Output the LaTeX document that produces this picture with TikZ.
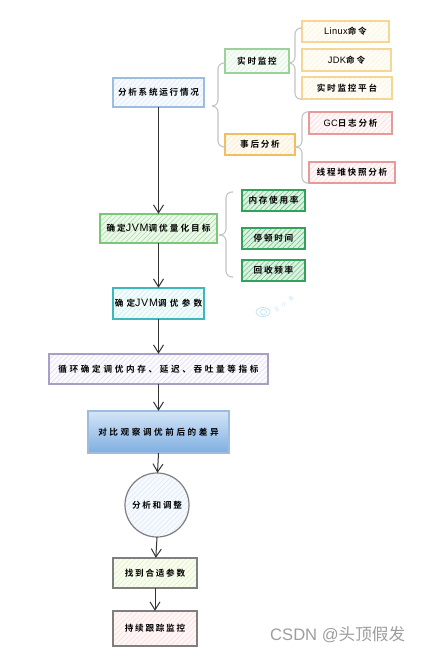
\documentclass[tikz,border=0pt]{standalone}
\usepackage{fontspec}
\setmainfont{Noto Sans CJK SC}[BoldFont={Noto Sans CJK SC Bold},LetterSpace=20]
\newfontfamily\latinf{Liberation Sans}[LetterSpace=4,Scale=1.08,BoldFont={Liberation Sans}]
\newfontfamily\latinw{Liberation Sans}[LetterSpace=6,Scale=1.25,BoldFont={Liberation Sans}]
\newfontfamily\latinplain{Liberation Sans}
\newfontfamily\cjkreg{Noto Sans CJK SC}
\usetikzlibrary{patterns.meta,arrows.meta,calc}
\definecolor{arrowc}{HTML}{333333}
\definecolor{bracec}{HTML}{C4C4C4}
% border / fill / hatch triples
\definecolor{blueB}{HTML}{9DBDE0}\definecolor{blueF}{HTML}{F6FAFE}\definecolor{blueH}{HTML}{DDEAF8}
\definecolor{greenB}{HTML}{9AD29A}\definecolor{greenF}{HTML}{F6FCF6}\definecolor{greenH}{HTML}{DDF2DD}
\definecolor{orangeB}{HTML}{F2BE5E}\definecolor{orangeF}{HTML}{FFFBF2}\definecolor{orangeH}{HTML}{FDEBCB}
\definecolor{yellowB}{HTML}{F5D694}\definecolor{yellowF}{HTML}{FFFDF7}\definecolor{yellowH}{HTML}{FDF3DC}
\definecolor{redB}{HTML}{E89A9A}\definecolor{redF}{HTML}{FFF8F8}\definecolor{redH}{HTML}{FBDEDE}
\definecolor{dgB}{HTML}{2FA35A}\definecolor{dgF}{HTML}{DDF2E2}\definecolor{dgH}{HTML}{6FC488}
\definecolor{lgB}{HTML}{7CC67A}\definecolor{lgF}{HTML}{ECF8EA}\definecolor{lgH}{HTML}{AFE0A9}
\definecolor{tealB}{HTML}{3DB8BE}\definecolor{tealF}{HTML}{F4FCFC}\definecolor{tealH}{HTML}{CDEFF0}
\definecolor{purpB}{HTML}{A79FC6}\definecolor{purpF}{HTML}{FBFAFE}\definecolor{purpH}{HTML}{E3DFF0}
\definecolor{grayB}{HTML}{7F7F7F}
\definecolor{limeF}{HTML}{F8FDF0}\definecolor{limeH}{HTML}{DFF2C8}
\definecolor{pinkF}{HTML}{FFF6F6}\definecolor{pinkH}{HTML}{FBDEDE}
\definecolor{gradT}{HTML}{D3E5F8}\definecolor{gradB}{HTML}{7FAEE0}
\definecolor{wm}{HTML}{BFE3F7}
\tikzset{
  x=1pt,y=-1pt,
  lbl/.style={font=\bfseries\fontsize{8.6}{10}\selectfont,text=black,align=center},
  hatchbox/.style n args={3}{draw=#1,line width=1.1pt,preaction={fill=#2},
    preaction={pattern={Lines[angle=45,distance=3.6pt,line width=.6pt]},pattern color=#3}},
  flow/.style={draw=arrowc,line width=1pt,-{Straight Barb[length=8pt,width=10pt,line width=1pt]}},
  brc/.style={draw=bracec,line width=1.1pt,rounded corners=6pt},
}
% name, x1, y1, x2, y2, style, text
\newcommand\bx[7]{\path[#6] (#2,#3) rectangle (#4,#5);
  \node[lbl,inner sep=0pt,minimum width={#4pt-#2pt},minimum height={#5pt-#3pt}] (#1) at ({(#2+#4)/2},{(#3+#5)/2}) {#7};}
% end, tip, end, spine x
\newcommand\brcc[4]{\coordinate (sp) at (#4,0);
  \draw[brc] (#1) -- (sp |- #1) -- (sp |- #2) -- (#2);
  \draw[brc] (#3) -- (sp |- #3) -- (sp |- #2) -- (#2);}
\begin{document}
\begin{tikzpicture}
\useasboundingbox (0,0) rectangle (421,653);
\fill[white] (0,0) rectangle (421,653);
% boxes
\bx{a}{113}{78}{204}{107}{hatchbox={blueB}{blueF}{blueH}}{分析系统运行情况}
\bx{rt}{225}{49}{289}{73}{hatchbox={greenB}{greenF}{greenH}}{实时监控}
\bx{post}{225}{134}{295}{155}{hatchbox={orangeB}{orangeF}{orangeH}}{事后分析}
\bx{lin}{302}{21}{389}{42}{hatchbox={yellowB}{yellowF}{yellowH}}{{\latinf Linux}命令}
\bx{jdk}{302}{49}{391}{71}{hatchbox={yellowB}{yellowF}{yellowH}}{{\latinf JDK}命令}
\bx{plat}{302}{77}{392}{99}{hatchbox={yellowB}{yellowF}{yellowH}}{实时监控平台}
\bx{gc}{309}{112}{392}{134}{hatchbox={redB}{redF}{redH}}{{\latinf GC}日志分析}
\bx{dump}{309}{162}{395}{183}{hatchbox={redB}{redF}{redH}}{线程堆快照分析}
\bx{goal}{100}{214}{217}{243}{hatchbox={lgB}{lgF}{lgH}}{\addfontfeature{LetterSpace=24}确定{\latinw JVM}调优量化目标}
\bx{mem}{242}{190}{305}{211}{hatchbox={dgB}{dgF}{dgH}}{内存使用率}
\bx{pause}{242}{228}{305}{249}{hatchbox={dgB}{dgF}{dgH}}{停顿时间}
\bx{freq}{242}{260}{305}{281}{hatchbox={dgB}{dgF}{dgH}}{回收频率}
\bx{par}{113}{288}{204}{319}{hatchbox={tealB}{tealF}{tealH}}{\addfontfeature{LetterSpace=38}确定{\latinw JVM}调优参数}
\bx{loop}{49}{354}{268}{384}{hatchbox={purpB}{purpF}{purpH}}{\addfontfeature{LetterSpace=31}循环确定调优内存、延迟、吞吐量等指标}
\path[draw=blueB,line width=1.1pt,top color=gradT,bottom color=gradB] (88,411) rectangle (229,453);
\node[lbl,inner sep=0pt,minimum width=141pt,minimum height=42pt] (cmp) at (158.5,432) {\addfontfeature{LetterSpace=30}对比观察调优前后的差异};
\path[draw=grayB,line width=1.2pt,preaction={fill=blueF},preaction={pattern={Lines[angle=45,distance=3.6pt,line width=.6pt]},pattern color=blueH}] (157,505) circle[radius=32];
\node[lbl,circle,inner sep=0pt,minimum size=64pt] (ana) at (157,505) {分析和调整};
\bx{fit}{113}{558}{197}{588}{hatchbox={grayB}{limeF}{limeH}}{找到合适参数}
\bx{keep}{113}{611}{197}{646}{hatchbox={grayB}{pinkF}{pinkH}}{持续跟踪监控}
% flow arrows
\draw[flow] (a.south) -- (goal.north);
\draw[flow] (goal.south) -- (par.north);
\draw[flow] (par.south) -- (loop.north);
\draw[flow] (loop.south) -- (cmp.north);
\draw[flow] (cmp.south) -- ($(ana.north)+(.5,0)$);
\draw[flow] (ana.south) -- ($(fit.north)+(.8,0)$);
\draw[flow] (fit.south) -- (keep.north);
% braces
\coordinate (t1) at (212,106);
\coordinate (e1a) at ($(rt.west)+(0,2)$);
\coordinate (e1b) at ($(post.west)+(0,2.5)$);
\brcc{e1a}{t1}{e1b}{218}
\coordinate (t2) at (289,63);
\coordinate (e2a) at ($(lin.west)+(0,-3.5)$);
\brcc{e2a}{t2}{plat.south west}{295}
\coordinate (t3) at (296,147);
\brcc{gc.north west}{t3}{dump.south west}{302}
\coordinate (t4) at (219,235);
\coordinate (e4a) at (233,192);
\coordinate (e4b) at (233,277);
\brcc{e4a}{t4}{e4b}{226}
% watermark
\draw[wm,line width=.7pt] (263,312) ellipse[x radius=7,y radius=4.5];
\draw[wm,line width=.7pt] (263.5,312) circle[radius=3];
\node[rotate=35,text=wm,inner sep=0pt,font=\cjkreg\fontsize{5}{6}\selectfont\addfontfeature{LetterSpace=75}] (mark) at (284,304) {王小各};
% site mark
\node[text=black!38,anchor=west,inner sep=0pt,font=\latinplain\fontsize{16.6}{18}\selectfont] (csdn) at (270,635) {CSDN @{\cjkreg\fontsize{16.6}{18}\selectfont 头顶假发}};
\end{tikzpicture}
\end{document}
